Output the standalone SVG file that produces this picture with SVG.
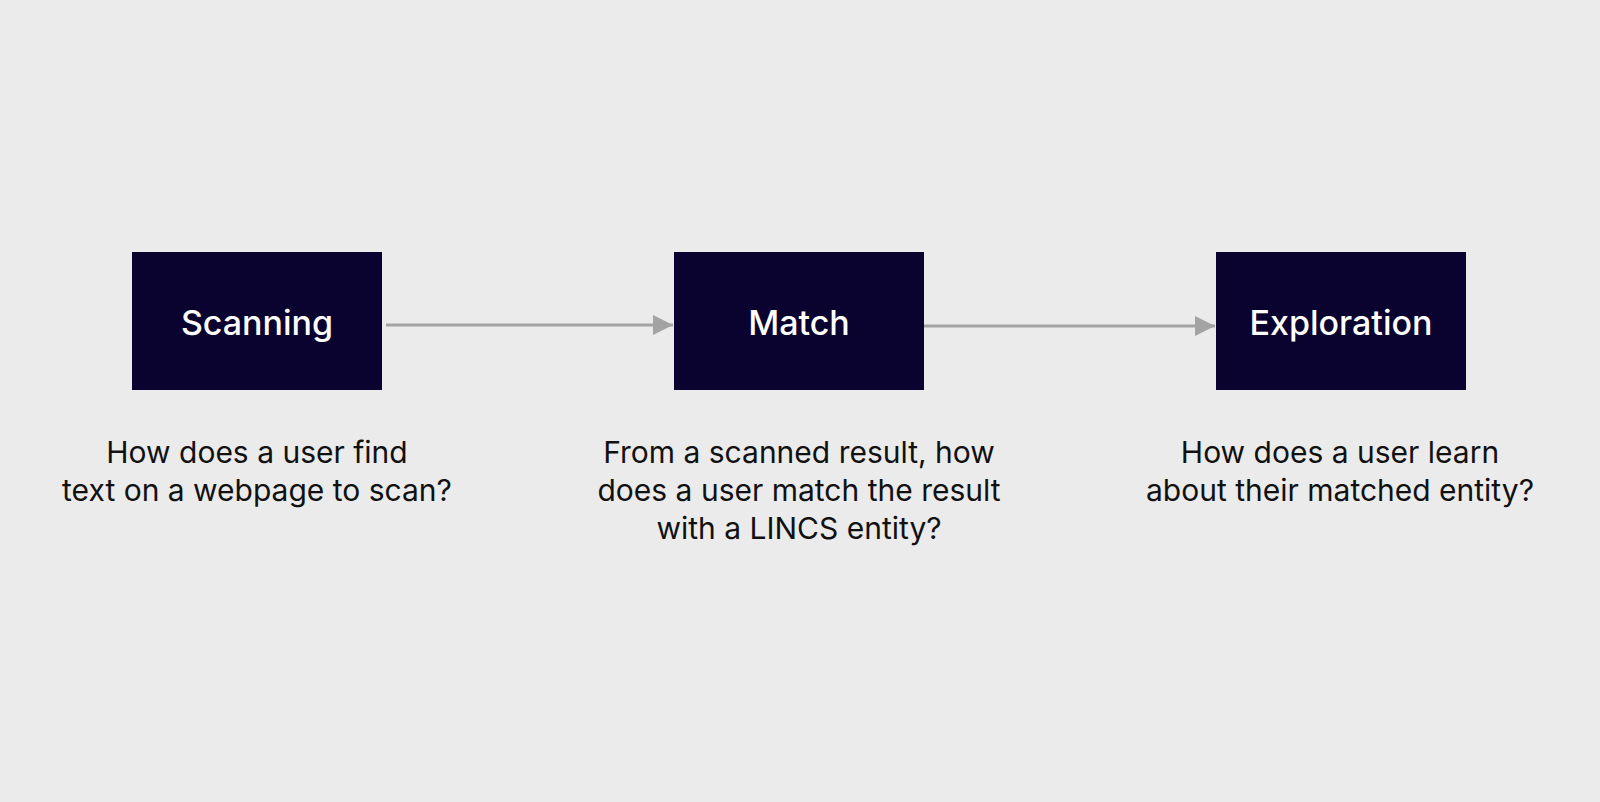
<svg xmlns="http://www.w3.org/2000/svg" width="1600" height="802" viewBox="0 0 1600 802">
<style>
.box{fill:#0a0330}
.lbl{font-family:Inter,"Liberation Sans",sans-serif;font-size:34px;font-weight:500;fill:#fff;text-anchor:middle}
.desc{font-family:Inter,"Liberation Sans",sans-serif;font-size:30px;fill:#111;text-anchor:middle}
.con{stroke:#a3a3a3;stroke-width:3;fill:none}
</style>
<defs><marker id="ah" markerWidth="8" markerHeight="8" refX="7" refY="4" orient="auto" markerUnits="userSpaceOnUse" viewBox="0 0 8 8"><path d="M0,0 L8,4 L0,8 z" fill="#a3a3a3"/></marker>
<marker id="a" viewBox="0 0 10 10" refX="10" refY="5" markerWidth="20" markerHeight="22" markerUnits="userSpaceOnUse" orient="auto"><path d="M0,0 L10,5 L0,10 z" fill="#a3a3a3"/></marker></defs>
<rect width="1600" height="802" fill="#ebebeb"/>
<g id="connectors">
<line class="con" x1="386" y1="325" x2="673" y2="325" marker-end="url(#a)"/>
<line class="con" x1="923" y1="326" x2="1215" y2="326" marker-end="url(#a)"/>
</g>
<g id="scanning"><rect class="box" x="132" y="252" width="250" height="138"/><text class="lbl" x="257" y="335">Scanning</text>
<text class="desc" x="257" y="463">How does a user find</text><text class="desc" x="257" y="501">text on a webpage to scan?</text></g>
<g id="match"><rect class="box" x="674" y="252" width="250" height="138"/><text class="lbl" x="799" y="335">Match</text>
<text class="desc" x="799" y="463">From a scanned result, how</text><text class="desc" x="799" y="501">does a user match the result</text><text class="desc" x="799" y="539">with a LINCS entity?</text></g>
<g id="exploration"><rect class="box" x="1216" y="252" width="250" height="138"/><text class="lbl" x="1341" y="335">Exploration</text>
<text class="desc" x="1340" y="463">How does a user learn</text><text class="desc" x="1340" y="501">about their matched entity?</text></g>
</svg>
